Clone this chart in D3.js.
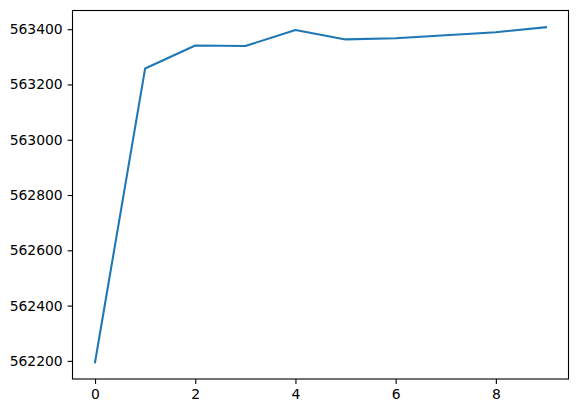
<!DOCTYPE html>
<meta charset="utf-8">
<style>
body { margin: 0; background: #fff; }
.tick text { font-family: "DejaVu Sans", sans-serif; font-size: 13.9px; fill: #000; }
.tick line { stroke: #000; stroke-width: 1.1px; }
.domain { display: none; }
.line { fill: none; stroke: #1f77b4; stroke-width: 2.08px; stroke-linejoin: round; stroke-linecap: square; }
</style>
<body>
<script src="https://d3js.org/d3.v7.min.js"></script>
<script>

// data
var steps = [0, 1, 2, 3, 4, 5, 6, 7, 8, 9];
var values = [562195, 563258, 563341, 563339, 563397, 563363, 563367, 563378, 563389, 563407];
var xTicks = [0, 2, 4, 6, 8];
var yTicks = [562200, 562400, 562600, 562800, 563000, 563200, 563400];

var margin = {top: 10.5, right: 9.5, bottom: 34, left: 72.5},
    width = 578 - margin.left - margin.right,
    height = 413 - margin.top - margin.bottom;

// matplotlib style 5% margins
function pad(ext) {
  var d = (ext[1] - ext[0]) * 0.05;
  return [ext[0] - d, ext[1] + d];
}

var x = d3.scaleLinear().domain(pad(d3.extent(steps))).range([0, width]);
var y = d3.scaleLinear().domain(pad(d3.extent(values))).range([height, 0]);

var svg = d3.select("body").append("svg")
    .attr("width", 578)
    .attr("height", 413)
  .append("g")
    .attr("transform", "translate(" + margin.left + "," + margin.top + ")");

var valueline = d3.line()
    .x(function(d, i) { return x(steps[i]); })
    .y(function(d) { return y(d); });

svg.append("path")
    .datum(values)
    .attr("class", "line")
    .attr("d", valueline);

svg.append("g")
    .attr("transform", "translate(0," + height + ")")
    .call(d3.axisBottom(x).tickValues(xTicks).tickSize(4.9).tickPadding(4.9).tickFormat(d3.format("d")));

svg.append("g")
    .call(d3.axisLeft(y).tickValues(yTicks).tickSize(4.9).tickPadding(4.9).tickFormat(d3.format("d")));

// axes frame
svg.append("rect")
    .attr("width", width)
    .attr("height", height)
    .attr("fill", "none")
    .attr("stroke", "#000")
    .attr("stroke-width", 1.1);

</script>
</body>
